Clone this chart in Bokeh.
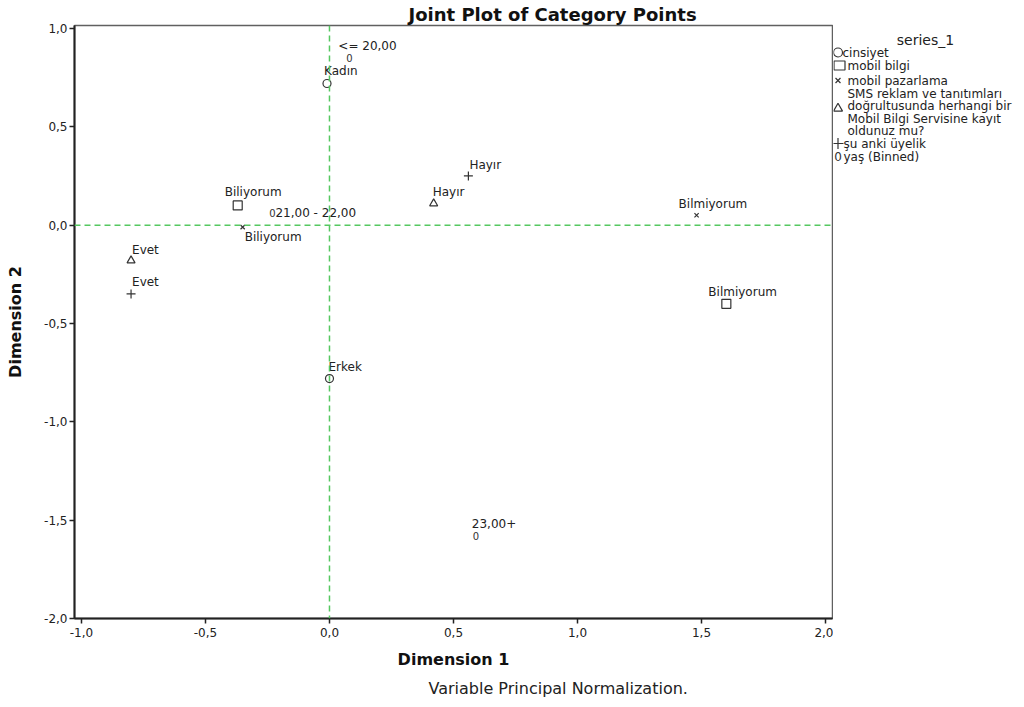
from bokeh.plotting import figure
from bokeh.layouts import row
from bokeh.models import Range1d, FixedTicker, Span, Title
from bokeh.core.properties import value
from bokeh.embed import file_html
from bokeh.resources import INLINE

# ---------------- data ----------------
cinsiyet_labels = ["Kadın", "Erkek"]
cinsiyet_x = [-0.01, 0.00]
cinsiyet_y = [0.72, -0.78]

mobil_bilgi_labels = ["Biliyorum", "Bilmiyorum"]
mobil_bilgi_x = [-0.37, 1.60]
mobil_bilgi_y = [0.10, -0.40]

mobil_pazarlama_labels = ["Biliyorum", "Bilmiyorum"]
mobil_pazarlama_x = [-0.35, 1.48]
mobil_pazarlama_y = [-0.01, 0.05]

sms_labels = ["Evet", "Hayır"]
sms_x = [-0.80, 0.42]
sms_y = [-0.18, 0.11]

uyelik_labels = ["Evet", "Hayır"]
uyelik_x = [-0.80, 0.56]
uyelik_y = [-0.35, 0.25]

yas_labels = ["<= 20,00", "21,00 - 22,00", "23,00+"]
yas_x = [0.08, -0.23, 0.59]
yas_y = [0.85, 0.06, -1.58]

series_names = [
    "cinsiyet",
    "mobil bilgi",
    "mobil pazarlama",
    "SMS reklam ve tanıtımları\ndoğrultusunda herhangi bir\nMobil Bilgi Servisine kayıt\noldunuz mu?",
    "şu anki üyelik",
    "yaş (Binned)",
]
legend_title = "series_1"

x_ticks = [-1.0, -0.5, 0.0, 0.5, 1.0, 1.5, 2.0]
x_tick_labels = ["-1,0", "-0,5", "0,0", "0,5", "1,0", "1,5", "2,0"]
y_ticks = [-2.0, -1.5, -1.0, -0.5, 0.0, 0.5, 1.0]
y_tick_labels = ["-2,0", "-1,5", "-1,0", "-0,5", "0,0", "0,5", "1,0"]

title_text = "Joint Plot of Category Points"
x_title = "Dimension 1"
y_title = "Dimension 2"
footnote = "Variable Principal Normalization."

# ---------------- styling ----------------
FONT = value("DejaVu Sans")
INK = "#333333"
GREEN = "#55c860"

# pixel offsets of the point labels
off_cinsiyet = ([-3, -1], [-13, -12])
off_mobil_bilgi = ([-13, -18], [-13, -12])
off_mobil_pazarlama = ([2, -18], [10, -11])
off_sms = ([1, -1], [-11, -11])
off_uyelik = ([1, 1], [-12, -11])
off_yas = ([-11, 3, -4], [-12, 0, -12])

TOP, BOTTOM, LEFT = 25, 89, 74
H = 707

# ---------------- main plot ----------------
p = figure(width=833, height=H,
           x_range=Range1d(-1.028, 2.028), y_range=Range1d(-2.0, 1.015),
           output_backend="svg", toolbar_location=None,
           min_border_left=LEFT, min_border_right=1,
           min_border_top=TOP, min_border_bottom=BOTTOM)
p.grid.visible = False
p.background_fill_color = "white"
p.border_fill_color = "white"
p.outline_line_color = "#606060"
p.outline_line_width = 1.5

p.xaxis.ticker = FixedTicker(ticks=x_ticks)
p.yaxis.ticker = FixedTicker(ticks=y_ticks)
p.xaxis.major_label_overrides = {t: s for t, s in zip(x_ticks, x_tick_labels)}
p.yaxis.major_label_overrides = {t: s for t, s in zip(y_ticks, y_tick_labels)}
for ax in (p.xaxis, p.yaxis):
    ax.minor_tick_line_color = None
    ax.major_tick_in = 0
    ax.major_tick_out = 5
    ax.major_tick_line_width = 1.5
    ax.major_tick_line_color = "#222222"
    ax.axis_line_color = "#222222"
    ax.axis_line_width = 2
    ax.major_label_text_font = "DejaVu Sans"
    ax.major_label_text_font_size = "12px"
    ax.major_label_text_color = "#222222"
    ax.axis_label_text_font = "DejaVu Sans"
    ax.axis_label_text_font_size = "16px"
    ax.axis_label_text_font_style = "bold"
    ax.axis_label_text_color = "#111111"
p.xaxis.axis_label = x_title
p.yaxis.axis_label = y_title
p.xaxis.major_label_standoff = 4
p.yaxis.major_label_standoff = 2
p.xaxis.axis_label_standoff = 10
p.yaxis.axis_label_standoff = 16

# title above the frame, footnote below the x axis
p.add_layout(Title(text=title_text, align="left", offset=334, standoff=2,
                   text_font="DejaVu Sans", text_font_size="18px",
                   text_font_style="bold", text_color="#111111"), "above")
p.add_layout(Title(text=footnote, align="left", offset=354, standoff=10,
                   text_font="DejaVu Sans", text_font_size="16px",
                   text_font_style="normal", text_color="#222222"), "below")

p.add_layout(Span(location=0, dimension="height", line_color=GREEN,
                  line_dash="6 4", line_width=1.5))
p.add_layout(Span(location=0, dimension="width", line_color=GREEN,
                  line_dash="6 4", line_width=1.5))

mk = dict(fill_color=None, line_color=INK, line_width=1.2)
p.scatter(cinsiyet_x, cinsiyet_y, marker="circle", size=8, **mk)
p.scatter(mobil_bilgi_x, mobil_bilgi_y, marker="square", size=9, **mk)
p.scatter(mobil_pazarlama_x, mobil_pazarlama_y, marker="x", size=6, **mk)
p.scatter(sms_x, sms_y, marker="triangle", size=8, **mk)
p.scatter(uyelik_x, uyelik_y, marker="cross", size=9, **mk)
p.text(yas_x, yas_y, text=["0"] * len(yas_x), text_font=FONT,
       text_font_size="10px", text_color=INK,
       text_align="center", text_baseline="middle")

lab = dict(text_font=FONT, text_font_size="12px", text_color="#222222",
           text_align="left", text_baseline="middle")
for xs, ys, labels, off in [
    (cinsiyet_x, cinsiyet_y, cinsiyet_labels, off_cinsiyet),
    (mobil_bilgi_x, mobil_bilgi_y, mobil_bilgi_labels, off_mobil_bilgi),
    (mobil_pazarlama_x, mobil_pazarlama_y, mobil_pazarlama_labels, off_mobil_pazarlama),
    (sms_x, sms_y, sms_labels, off_sms),
    (uyelik_x, uyelik_y, uyelik_labels, off_uyelik),
    (yas_x, yas_y, yas_labels, off_yas),
]:
    p.text(xs, ys, text=labels, x_offset=off[0], y_offset=off[1], **lab)

# ---------------- legend panel (data units = pixels) ----------------
LW = 1024 - 833
leg = figure(width=LW, height=H, x_range=Range1d(0, LW), y_range=Range1d(H - BOTTOM, TOP),
             output_backend="svg", toolbar_location=None,
             min_border_left=0, min_border_right=0,
             min_border_top=TOP, min_border_bottom=BOTTOM,
             x_axis_type=None, y_axis_type=None)
leg.outline_line_color = None
leg.background_fill_color = "white"
leg.border_fill_color = "white"

leg.text([92], [39], text=[legend_title], text_font=FONT, text_font_size="14px",
         text_color="#222222", text_align="center", text_baseline="middle")

glyph_x = 4.5
item_y = [52, 65, 80, 112, 143, 156]
text_x = [9, 14, 14, 14, 10, 10]
leg.scatter([glyph_x], [item_y[0]], marker="circle", size=9, **mk)
leg.rect([glyph_x + 1.5], [item_y[1]], width=11, height=9, **mk)
leg.scatter([glyph_x], [item_y[2]], marker="x", size=7, **mk)
leg.scatter([glyph_x], [item_y[3] - 4], marker="triangle", size=9, **mk)
leg.scatter([glyph_x], [item_y[4]], marker="cross", size=11, **mk)
leg.text([glyph_x], [item_y[5]], text=["0"], text_font=FONT, text_font_size="12px",
         text_color=INK, text_align="center", text_baseline="middle")

single = (0, 1, 2, 4, 5)
leg.text([text_x[i] for i in single], [item_y[i] for i in single],
         text=[series_names[i] for i in single], text_font=FONT,
         text_font_size="12px", text_color="#222222", text_align="left",
         text_baseline="middle")
leg.text([text_x[3]], [item_y[3]], text=[series_names[3]], text_font=FONT,
         text_font_size="12px", text_color="#222222", text_align="left",
         text_baseline="middle", text_line_height=0.86)

layout = row(p, leg)
open("out.html", "w").write(file_html(layout, INLINE))
